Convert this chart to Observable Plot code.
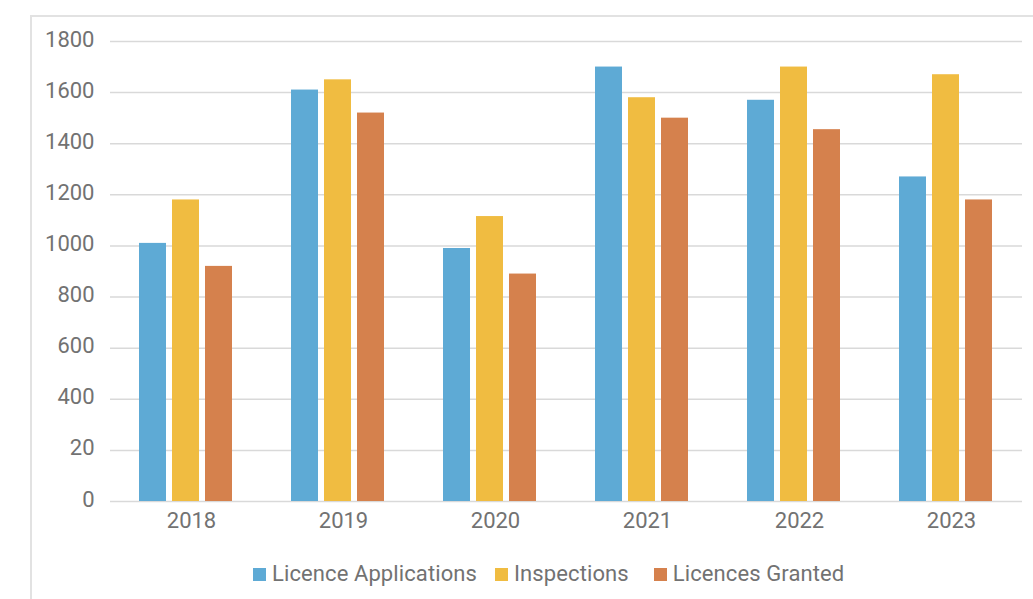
<!DOCTYPE html>
<html><head><meta charset="utf-8">
<script src="https://cdn.jsdelivr.net/npm/d3@7"></script>
<script src="https://cdn.jsdelivr.net/npm/@observablehq/plot@0.6"></script>
<style>
body{margin:0;background:#fff;width:1033px;height:599px;overflow:hidden;position:relative;font-family:Roboto,sans-serif;}
#frame{position:absolute;left:30px;top:15px;right:-10px;bottom:-10px;border-top:2px solid #e2e2e2;border-left:2px solid #e2e2e2;}
#chart{position:absolute;left:0;top:0;}
#legend{position:absolute;left:253px;top:561px;display:flex;align-items:center;font-size:22px;line-height:26px;color:#727272;white-space:nowrap;letter-spacing:0.1px;}
.item{display:flex;align-items:center;}
.item:nth-child(1){margin-right:18px}
.item:nth-child(2){margin-right:25px}
.sw{width:13px;height:13px;margin-right:6px}
</style></head><body>
<div id="frame"></div><div id="chart"></div><div id="legend"></div>
<script>
const years = ["2018","2019","2020","2021","2022","2023"];
const series = ["Licence Applications","Inspections","Licences Granted"];
const licenceApplications = [1010,1610,990,1700,1570,1270];
const inspections = [1180,1650,1115,1580,1700,1670];
const licencesGranted = [920,1520,890,1500,1455,1180];
const colors = ["#5eaad5","#f0bc41","#d5814d"];
const yTicks = [0,200,400,600,800,1000,1200,1400,1600,1800];
const yTickLabels = ["0","20","400","600","800","1000","1200","1400","1600","1800"];

const seriesValues = [licenceApplications, inspections, licencesGranted];
const data = [];
years.forEach((yr, i) => series.forEach((s, j) => data.push({year: yr, series: s, value: seriesValues[j][i]})));
const labelOf = new Map(yTicks.map((t, i) => [t, yTickLabels[i]]));

const hasAxisMarks = typeof Plot.axisY === "function" && typeof Plot.axisFx === "function";
const marks = [
  Plot.ruleY(yTicks, {stroke: "#d9d9d9", strokeWidth: 1.5}),
  Plot.barY(data, {fx: "year", x: "series", y: "value", fill: "series"})
];
if (hasAxisMarks) {
  marks.push(
    Plot.axisY(yTicks, {tickFormat: d => labelOf.get(d), tickSize: 0, tickPadding: 16, dy: -2, label: null}),
    Plot.axisFx({anchor: "bottom", tickSize: 0, tickPadding: 11, dx: 5, label: null})
  );
}

const chart = Plot.plot({
  width: 1033,
  height: 550,
  marginLeft: 109,
  marginRight: 10,
  marginTop: 41,
  marginBottom: 49,
  style: {fontFamily: "Roboto, sans-serif", fontSize: "22px", color: "#727272", background: "transparent"},
  fx: {domain: years, padding: 0, label: null, tickSize: 0, tickPadding: 11},
  x: {domain: series, axis: null, paddingInner: 0.18, paddingOuter: 0.87},
  y: {domain: [0, 1800], ticks: yTicks, tickFormat: d => labelOf.get(d), tickSize: 0, tickPadding: 16, label: null},
  color: {domain: series, range: colors},
  marks
});
document.getElementById("chart").append(chart);

const legend = document.getElementById("legend");
series.forEach((s, j) => {
  const it = document.createElement("div");
  it.className = "item";
  const sw = document.createElement("span");
  sw.className = "sw";
  sw.style.background = colors[j];
  const tx = document.createElement("span");
  tx.textContent = s;
  it.append(sw, tx);
  legend.append(it);
});
</script>
</body></html>
